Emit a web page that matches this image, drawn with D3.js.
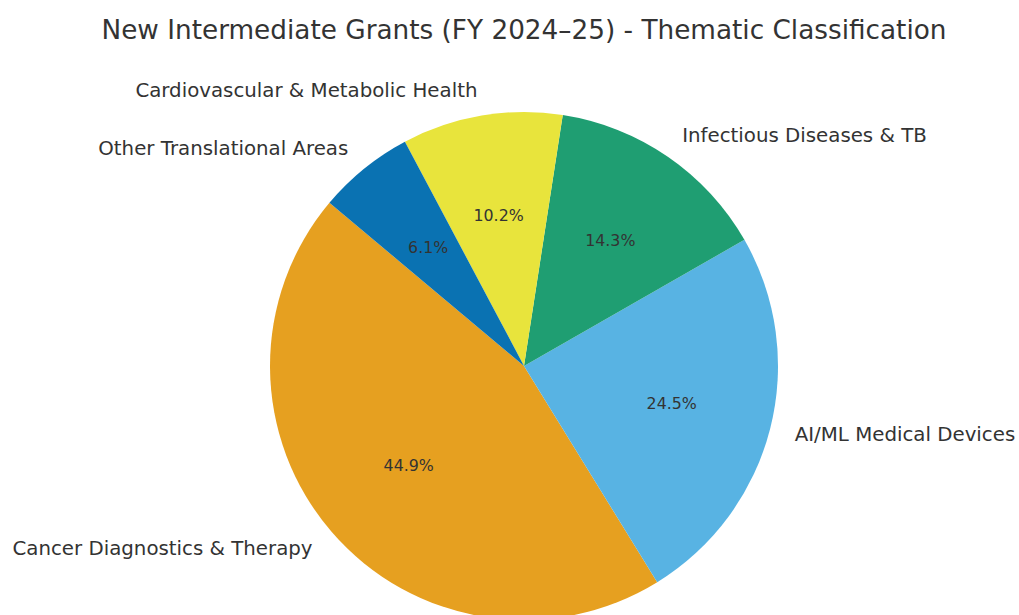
<!DOCTYPE html>
<html>
<head>
<meta charset="utf-8">
<script src="https://cdn.jsdelivr.net/npm/d3@7"></script>
<style>
  body { margin: 0; background: #fff; }
  text { font-family: 'DejaVu Sans', sans-serif; fill: #333; }
</style>
</head>
<body>
<div id="canvas"></div>
<script>
const categories = ['Cancer Diagnostics & Therapy', 'AI/ML Medical Devices', 'Infectious Diseases & TB',
    'Cardiovascular & Metabolic Health', 'Other Translational Areas'];
const grants = [22, 12, 7, 5, 3];
const colours = ['#E6A020', '#58B3E3', '#1F9E72', '#E8E43C', '#0A72B2'];

const w = 1019,
    h = 615,
    cx = 524,
    cy = 366,
    r = 254,
    startAngle = 140,
    svg = d3.select('#canvas').append('svg')
        .attr('width', w)
        .attr('height', h);

const data = categories.map((c, i) => ({ name: c, value: grants[i], colour: colours[i] }));
const total = d3.sum(grants);

// matplotlib-style: counterclockwise from startAngle (degrees, 0 = east)
// d3 angles: 0 = north, clockwise. Convert: d3 = 90 - math, going negative.
const pie = d3.pie()
    .value(d => d.value)
    .sort(null)
    .startAngle((90 - startAngle) * Math.PI / 180)
    .endAngle((90 - startAngle - 360) * Math.PI / 180);

const arcs = pie(data);
const arc = d3.arc().innerRadius(0).outerRadius(r);

const g = svg.append('g').attr('transform', 'translate(' + cx + ',' + cy + ')');

g.selectAll('path')
    .data(arcs)
    .join('path')
    .attr('d', arc)
    .attr('fill', d => d.data.colour);

function mid(d) { return (d.startAngle + d.endAngle) / 2; }

g.selectAll('text.label')
    .data(arcs)
    .join('text')
    .attr('class', 'label')
    .attr('x', d => Math.sin(mid(d)) * r * 1.1)
    .attr('y', d => -Math.cos(mid(d)) * r * 1.1)
    .attr('text-anchor', d => Math.sin(mid(d)) > 0 ? 'start' : 'end')
    .attr('dominant-baseline', 'central')
    .attr('font-size', '19.8px')
    .text(d => d.data.name);

g.selectAll('text.pct')
    .data(arcs)
    .join('text')
    .attr('class', 'pct')
    .attr('x', d => Math.sin(mid(d)) * r * 0.6)
    .attr('y', d => -Math.cos(mid(d)) * r * 0.6)
    .attr('text-anchor', 'middle')
    .attr('dominant-baseline', 'central')
    .attr('font-size', '15.8px')
    .text(d => (d.data.value / total * 100).toFixed(1) + '%');

svg.append('text')
    .attr('x', 524)
    .attr('y', 30)
    .attr('text-anchor', 'middle')
    .attr('dominant-baseline', 'central')
    .attr('font-size', '26.3px')
    .text('New Intermediate Grants (FY 2024\u201325) - Thematic Classification');
</script>
</body>
</html>
